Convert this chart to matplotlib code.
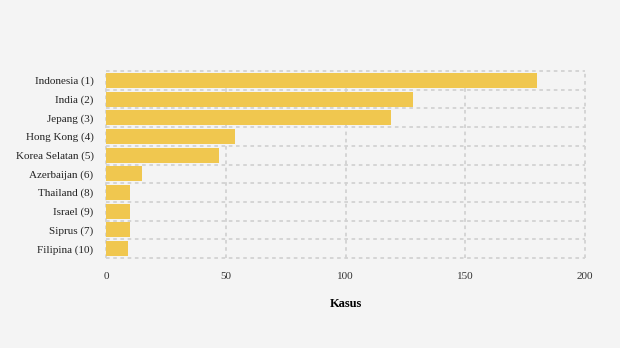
import matplotlib
matplotlib.use("Agg")
import matplotlib.pyplot as plt
import numpy as np

categories = ["Indonesia (1)", "India (2)", "Jepang (3)", "Hong Kong (4)", "Korea Selatan (5)",
              "Azerbaijan (6)", "Thailand (8)", "Israel (9)", "Siprus (7)", "Filipina (10)"]
values = [180, 128, 119, 54, 47, 15, 10, 10, 10, 9]
x_ticks = [0, 50, 100, 150, 200]

plt.rcParams['font.family'] = ['Liberation Serif', 'DejaVu Serif']

bg = "#f4f4f4"
fig = plt.figure(figsize=(6.2, 3.48), dpi=100, facecolor=bg)
ax = fig.add_axes([106/620, 1-258/348, (585-106)/620, (258-71)/348], facecolor=bg)

y = np.arange(len(categories))
ax.barh(y, values, height=0.8, color="#f0c74f", zorder=2)
ax.set_ylim(len(categories)-0.5, -0.5)
ax.set_xlim(0, 200)
ax.set_xticks(x_ticks)
ax.set_xticklabels([str(t) for t in x_ticks])
ax.set_yticks(y)
ax.set_yticklabels(categories)

for s in ax.spines.values():
    s.set_visible(False)

gstyle = dict(color="#d2d2d2", linestyle=(0, (2, 2)), linewidth=1.3, zorder=0, clip_on=False)
for t in x_ticks:
    ax.axvline(t, **gstyle)
for b in np.arange(-0.5, len(categories)):
    ax.axhline(b, **gstyle)

ax.tick_params(axis='y', which='both', length=0, pad=9, labelsize=8, labelcolor="#222222")
ax.tick_params(axis='x', length=0, pad=10, labelsize=8, labelcolor="#333333")
ax.set_xlabel("Kasus", fontsize=9, fontweight='bold', labelpad=12)

fig.savefig("out.png", dpi=100, facecolor=bg)
